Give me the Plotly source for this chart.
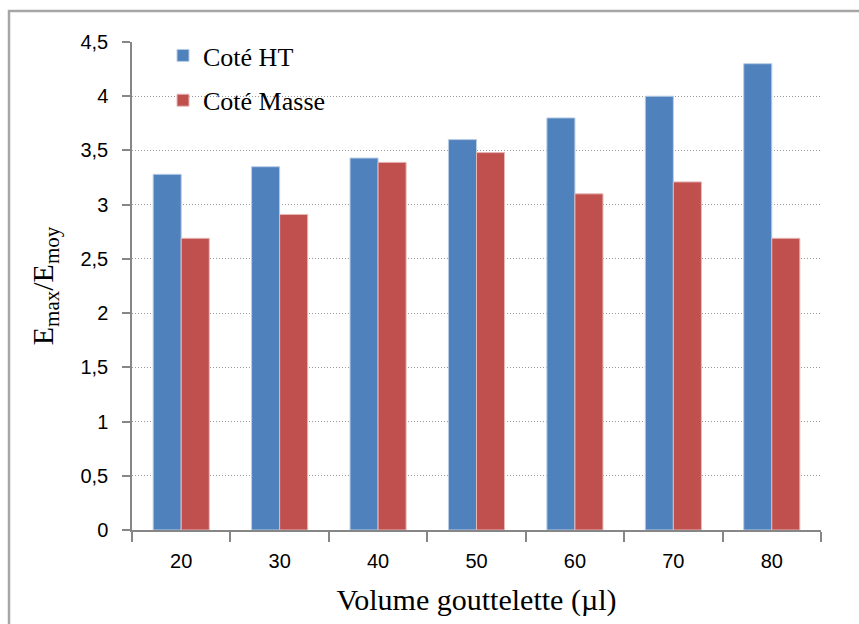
import plotly.graph_objects as go

categories = ["20", "30", "40", "50", "60", "70", "80"]
cote_ht = [3.28, 3.35, 3.43, 3.60, 3.80, 4.00, 4.30]
cote_masse = [2.69, 2.91, 3.39, 3.48, 3.10, 3.21, 2.69]
y_ticks = [0, 0.5, 1, 1.5, 2, 2.5, 3, 3.5, 4, 4.5]
y_tick_labels = ["0", "0,5", "1", "1,5", "2", "2,5", "3", "3,5", "4", "4,5"]

fig = go.Figure()
fig.add_trace(go.Bar(x=categories, y=cote_ht, name="Coté HT", legendgroup="a",
                     marker=dict(color="#4F81BD", line=dict(color="#B9CDE5", width=1))))
fig.add_trace(go.Bar(x=categories, y=cote_masse, name="Coté Masse", legendgroup="b",
                     marker=dict(color="#C0504D", line=dict(color="#E6B9B8", width=1))))

W, H = 859, 624
l, r, t, b = 132, 38, 42, 94
pw = W - l - r
ph = H - t - b

def px(xp):
    return (xp - l) / pw

def py(yp):
    return (H - b - yp) / ph

fig.update_layout(
    width=W, height=H,
    margin=dict(l=l, r=r, t=t, b=b),
    paper_bgcolor="white", plot_bgcolor="white",
    barmode="group", bargap=0.43, bargroupgap=0,
    showlegend=True,
    legend=dict(x=px(163), y=py(32), xanchor="left", yanchor="top",
                font=dict(family="Liberation Serif", size=26, color="#000"),
                bgcolor="rgba(0,0,0,0)", tracegroupgap=8, traceorder="grouped",
                itemwidth=30),
    xaxis=dict(
        type="category", showline=True, linecolor="#868686", linewidth=1.5,
        ticks="outside", ticklen=10, tickcolor="#868686", tickwidth=1.5,
        tickson="boundaries", showgrid=False, ticklabelstandoff=12,
        tickfont=dict(family="Liberation Sans", size=20, color="#000"),
        title=dict(text="Volume gouttelette (µl)",
                   font=dict(family="Liberation Serif", size=30, color="#000"),
                   standoff=18),
    ),
    yaxis=dict(
        range=[0, 4.5], tickvals=y_ticks, ticktext=y_tick_labels,
        showline=True, linecolor="#868686", linewidth=1.5,
        ticks="outside", ticklen=8, tickcolor="#868686", tickwidth=1.5,
        showgrid=True, gridcolor="#9A9A9A", griddash="1px,2px", gridwidth=1.2,
        zeroline=False, ticklabelstandoff=10,
        tickfont=dict(family="Liberation Sans", size=20, color="#000"),
        title=dict(text="E<sub>max</sub>/E<sub>moy</sub>",
                   font=dict(family="Liberation Serif", size=30, color="#000"),
                   standoff=18),
    ),
    shapes=[dict(type="rect", xref="paper", yref="paper",
                 x0=px(9), x1=px(880), y0=py(660), y1=py(11),
                 line=dict(color="#A6A6A6", width=2.5), layer="below")],
)

fig.write_html("out.html", config={"displayModeBar": False},
               post_script="document.body.style.margin='0';document.body.style.overflow='hidden';")
